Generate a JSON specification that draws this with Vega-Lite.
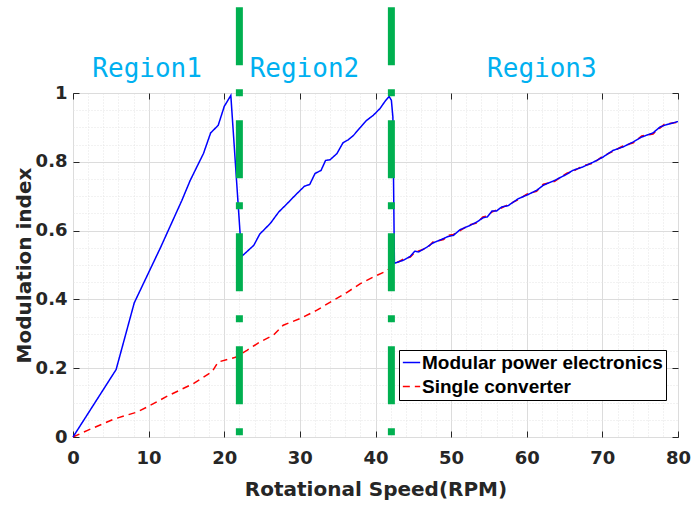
{
  "$schema": "https://vega.github.io/schema/vega-lite/v6.json",
  "autosize": "none",
  "width": 605,
  "height": 344,
  "padding": {"left": 73, "top": 93, "right": 15, "bottom": 69},
  "background": "white",
  "config": {
    "font": "Liberation Sans",
    "view": {"stroke": "#262626", "strokeWidth": 1}
  },
  "datasets": {
    "lines": [
      {"s": "Modular power electronics", "x": 0, "y": 0},
      {"s": "Modular power electronics", "x": 5.7, "y": 0.196},
      {"s": "Modular power electronics", "x": 8.1, "y": 0.39},
      {"s": "Modular power electronics", "x": 11.6, "y": 0.552},
      {"s": "Modular power electronics", "x": 14.4, "y": 0.688},
      {"s": "Modular power electronics", "x": 15.5, "y": 0.746},
      {"s": "Modular power electronics", "x": 17.25, "y": 0.824},
      {"s": "Modular power electronics", "x": 18.2, "y": 0.884},
      {"s": "Modular power electronics", "x": 19.2, "y": 0.906},
      {"s": "Modular power electronics", "x": 20.0, "y": 0.961},
      {"s": "Modular power electronics", "x": 20.87, "y": 0.993},
      {"s": "Modular power electronics", "x": 22.3, "y": 0.525},
      {"s": "Modular power electronics", "x": 23.9, "y": 0.557},
      {"s": "Modular power electronics", "x": 24.7, "y": 0.59},
      {"s": "Modular power electronics", "x": 26.1, "y": 0.621},
      {"s": "Modular power electronics", "x": 27.2, "y": 0.654},
      {"s": "Modular power electronics", "x": 28.3, "y": 0.678},
      {"s": "Modular power electronics", "x": 29.4, "y": 0.703},
      {"s": "Modular power electronics", "x": 30.6, "y": 0.729},
      {"s": "Modular power electronics", "x": 31.3, "y": 0.734},
      {"s": "Modular power electronics", "x": 32.0, "y": 0.766},
      {"s": "Modular power electronics", "x": 32.8, "y": 0.775},
      {"s": "Modular power electronics", "x": 33.4, "y": 0.804},
      {"s": "Modular power electronics", "x": 34.0, "y": 0.806},
      {"s": "Modular power electronics", "x": 34.9, "y": 0.824},
      {"s": "Modular power electronics", "x": 35.7, "y": 0.855},
      {"s": "Modular power electronics", "x": 36.4, "y": 0.864},
      {"s": "Modular power electronics", "x": 37.1, "y": 0.877},
      {"s": "Modular power electronics", "x": 38.0, "y": 0.9},
      {"s": "Modular power electronics", "x": 38.8, "y": 0.92},
      {"s": "Modular power electronics", "x": 39.7, "y": 0.935},
      {"s": "Modular power electronics", "x": 40.6, "y": 0.955},
      {"s": "Modular power electronics", "x": 41.3, "y": 0.977},
      {"s": "Modular power electronics", "x": 41.8, "y": 0.99},
      {"s": "Modular power electronics", "x": 42.1, "y": 0.979},
      {"s": "Modular power electronics", "x": 42.3, "y": 0.93},
      {"s": "Modular power electronics", "x": 42.5, "y": 0.505},
      {"s": "Modular power electronics", "x": 43.7, "y": 0.514},
      {"s": "Modular power electronics", "x": 44.6, "y": 0.525},
      {"s": "Modular power electronics", "x": 45.2, "y": 0.54},
      {"s": "Modular power electronics", "x": 45.7, "y": 0.538},
      {"s": "Modular power electronics", "x": 46.8, "y": 0.552},
      {"s": "Modular power electronics", "x": 47.6, "y": 0.564},
      {"s": "Modular power electronics", "x": 49.0, "y": 0.577},
      {"s": "Modular power electronics", "x": 49.6, "y": 0.583},
      {"s": "Modular power electronics", "x": 50.3, "y": 0.586},
      {"s": "Modular power electronics", "x": 51.2, "y": 0.603},
      {"s": "Modular power electronics", "x": 52.3, "y": 0.613},
      {"s": "Modular power electronics", "x": 53.4, "y": 0.625},
      {"s": "Modular power electronics", "x": 54.2, "y": 0.637},
      {"s": "Modular power electronics", "x": 54.8, "y": 0.64},
      {"s": "Modular power electronics", "x": 55.4, "y": 0.657},
      {"s": "Modular power electronics", "x": 56.0, "y": 0.657},
      {"s": "Modular power electronics", "x": 56.7, "y": 0.669},
      {"s": "Modular power electronics", "x": 57.5, "y": 0.672},
      {"s": "Modular power electronics", "x": 58.9, "y": 0.693},
      {"s": "Modular power electronics", "x": 60.0, "y": 0.703},
      {"s": "Modular power electronics", "x": 61.3, "y": 0.717},
      {"s": "Modular power electronics", "x": 62.2, "y": 0.732},
      {"s": "Modular power electronics", "x": 63.7, "y": 0.746},
      {"s": "Modular power electronics", "x": 65.3, "y": 0.764},
      {"s": "Modular power electronics", "x": 66.1, "y": 0.775},
      {"s": "Modular power electronics", "x": 67.4, "y": 0.785},
      {"s": "Modular power electronics", "x": 68.8, "y": 0.799},
      {"s": "Modular power electronics", "x": 70.1, "y": 0.814},
      {"s": "Modular power electronics", "x": 71.4, "y": 0.833},
      {"s": "Modular power electronics", "x": 72.7, "y": 0.843},
      {"s": "Modular power electronics", "x": 74.1, "y": 0.858},
      {"s": "Modular power electronics", "x": 75.2, "y": 0.872},
      {"s": "Modular power electronics", "x": 76.7, "y": 0.884},
      {"s": "Modular power electronics", "x": 77.6, "y": 0.901},
      {"s": "Modular power electronics", "x": 78.2, "y": 0.906},
      {"s": "Modular power electronics", "x": 79.8, "y": 0.916},
      {"s": "Modular power electronics", "x": 80, "y": 0.917},
      {"s": "Single converter", "x": 0, "y": 0},
      {"s": "Single converter", "x": 2.0, "y": 0.02},
      {"s": "Single converter", "x": 5.4, "y": 0.052},
      {"s": "Single converter", "x": 8.4, "y": 0.072},
      {"s": "Single converter", "x": 9.8, "y": 0.087},
      {"s": "Single converter", "x": 12.4, "y": 0.118},
      {"s": "Single converter", "x": 15.9, "y": 0.155},
      {"s": "Single converter", "x": 18.4, "y": 0.19},
      {"s": "Single converter", "x": 19.2, "y": 0.218},
      {"s": "Single converter", "x": 21.5, "y": 0.232},
      {"s": "Single converter", "x": 23.0, "y": 0.252},
      {"s": "Single converter", "x": 24.7, "y": 0.276},
      {"s": "Single converter", "x": 26.5, "y": 0.296},
      {"s": "Single converter", "x": 27.8, "y": 0.325},
      {"s": "Single converter", "x": 30.0, "y": 0.344},
      {"s": "Single converter", "x": 32.2, "y": 0.368},
      {"s": "Single converter", "x": 34.4, "y": 0.397},
      {"s": "Single converter", "x": 36.2, "y": 0.42},
      {"s": "Single converter", "x": 38.0, "y": 0.446},
      {"s": "Single converter", "x": 39.7, "y": 0.465},
      {"s": "Single converter", "x": 41.5, "y": 0.483},
      {"s": "Single converter", "x": 42.5, "y": 0.503},
      {"s": "Single converter", "x": 43.7, "y": 0.517},
      {"s": "Single converter", "x": 44.6, "y": 0.523},
      {"s": "Single converter", "x": 45.2, "y": 0.537},
      {"s": "Single converter", "x": 45.7, "y": 0.541},
      {"s": "Single converter", "x": 46.8, "y": 0.549},
      {"s": "Single converter", "x": 47.6, "y": 0.567},
      {"s": "Single converter", "x": 49.0, "y": 0.574},
      {"s": "Single converter", "x": 49.6, "y": 0.586},
      {"s": "Single converter", "x": 50.3, "y": 0.589},
      {"s": "Single converter", "x": 51.2, "y": 0.6},
      {"s": "Single converter", "x": 52.3, "y": 0.616},
      {"s": "Single converter", "x": 53.4, "y": 0.622},
      {"s": "Single converter", "x": 54.2, "y": 0.64},
      {"s": "Single converter", "x": 54.8, "y": 0.643},
      {"s": "Single converter", "x": 55.4, "y": 0.654},
      {"s": "Single converter", "x": 56.0, "y": 0.66},
      {"s": "Single converter", "x": 56.7, "y": 0.666},
      {"s": "Single converter", "x": 57.5, "y": 0.675},
      {"s": "Single converter", "x": 58.9, "y": 0.69},
      {"s": "Single converter", "x": 60.0, "y": 0.706},
      {"s": "Single converter", "x": 61.3, "y": 0.714},
      {"s": "Single converter", "x": 62.2, "y": 0.735},
      {"s": "Single converter", "x": 63.7, "y": 0.743},
      {"s": "Single converter", "x": 65.3, "y": 0.767},
      {"s": "Single converter", "x": 66.1, "y": 0.772},
      {"s": "Single converter", "x": 67.4, "y": 0.788},
      {"s": "Single converter", "x": 68.8, "y": 0.796},
      {"s": "Single converter", "x": 70.1, "y": 0.817},
      {"s": "Single converter", "x": 71.4, "y": 0.83},
      {"s": "Single converter", "x": 72.7, "y": 0.846},
      {"s": "Single converter", "x": 74.1, "y": 0.855},
      {"s": "Single converter", "x": 75.2, "y": 0.875},
      {"s": "Single converter", "x": 76.7, "y": 0.881},
      {"s": "Single converter", "x": 77.6, "y": 0.898},
      {"s": "Single converter", "x": 78.2, "y": 0.909},
      {"s": "Single converter", "x": 79.8, "y": 0.914},
      {"s": "Single converter", "x": 80, "y": 0.918}
    ],
    "bounds": [
      {"x": 22.0, "top": 1.249, "bottom": -0.065},
      {"x": 42.1, "top": 1.249, "bottom": -0.065}
    ],
    "regions": [
      {"label": "Region1", "x": 9.8, "y": 1.046},
      {"label": "Region2", "x": 30.6, "y": 1.046},
      {"label": "Region3", "x": 62.0, "y": 1.046}
    ]
  },
  "layer": [
    {
      "data": {"name": "lines"},
      "transform": [{"filter": "datum.s === 'Single converter'"}],
      "mark": {"type": "line", "strokeWidth": 1.5, "clip": false},
      "encoding": {
        "x": {
          "field": "x", "type": "quantitative",
          "scale": {"domain": [0, 80], "nice": false, "zero": false},
          "axis": {
            "orient": "bottom",
            "title": "Rotational Speed(RPM)",
            "values": [0,2,4,6,8,10,12,14,16,18,20,22,24,26,28,30,32,34,36,38,40,42,44,46,48,50,52,54,56,58,60,62,64,66,68,70,72,74,76,78,80],
            "labelExpr": "datum.value % 10 === 0 ? datum.label : ''",
            "labelOverlap": false,
            "labelFlush": false,
            "labelFont": "DejaVu Sans",
            "labelFontSize": 18, "labelFontWeight": "bold", "labelColor": "#262626",
            "labelPadding": 18, "labelBaseline": "top",
            "tickSize": -6, "tickColor": "#262626",
            "tickOpacity": {"condition": {"test": "datum.value % 10 === 0", "value": 1}, "value": 0},
            "domain": false,
            "grid": true,
            "gridColor": {"condition": {"test": "datum.value % 10 === 0", "value": "#dcdcdc"}, "value": "#e4e4e4"},
            "gridDash": {"condition": {"test": "datum.value % 10 === 0", "value": []}, "value": [1, 2]},
            "gridWidth": 1,
            "titleFont": "DejaVu Sans",
            "titleFontSize": 20, "titleFontWeight": "bold", "titleColor": "#262626",
            "titleX": 302.5, "titleY": 58, "titleBaseline": "alphabetic", "titleAlign": "center"
          }
        },
        "y": {
          "field": "y", "type": "quantitative",
          "scale": {"domain": [0, 1], "nice": false, "zero": false},
          "axis": {
            "orient": "left",
            "title": "Modulation index",
            "values": [0,0.05,0.1,0.15,0.2,0.25,0.3,0.35,0.4,0.45,0.5,0.55,0.6,0.65,0.7,0.75,0.8,0.85,0.9,0.95,1],
            "labelExpr": "abs(datum.value*5 - round(datum.value*5)) < 0.001 ? format(datum.value, '.1~f') : ''",
            "labelOverlap": false,
            "labelFlush": false,
            "labelFont": "DejaVu Sans",
            "labelFontSize": 18, "labelFontWeight": "bold", "labelColor": "#262626",
            "labelPadding": 12,
            "tickSize": -6, "tickColor": "#262626",
            "tickOpacity": {"condition": {"test": "abs(datum.value*5 - round(datum.value*5)) < 0.001", "value": 1}, "value": 0},
            "domain": false,
            "grid": true,
            "gridColor": {"condition": {"test": "abs(datum.value*5 - round(datum.value*5)) < 0.001", "value": "#dcdcdc"}, "value": "#e4e4e4"},
            "gridDash": {"condition": {"test": "abs(datum.value*5 - round(datum.value*5)) < 0.001", "value": []}, "value": [1, 2]},
            "gridWidth": 1,
            "titleFont": "DejaVu Sans",
            "titleFontSize": 20, "titleFontWeight": "bold", "titleColor": "#262626",
            "titleAngle": -90, "titleX": -43, "titleY": 172, "titleBaseline": "alphabetic", "titleAlign": "center"
          }
        },
        "color": {
          "field": "s", "type": "nominal",
          "scale": {"domain": ["Modular power electronics", "Single converter"], "range": ["#0000ff", "#ff0000"]},
          "legend": {
            "orient": "none", "legendX": 326, "legendY": 257,
            "title": null,
            "symbolType": "stroke", "symbolSize": 300, "symbolStrokeWidth": 1.5,
            "labelFontSize": 19, "labelFontWeight": "bold", "labelColor": "#000000", "labelFont": "Liberation Sans",
            "labelLimit": 400, "labelOffset": 1,
            "strokeColor": "#000000", "fillColor": "#ffffff", "padding": 3, "rowPadding": 4, "cornerRadius": 0
          }
        },
        "strokeDash": {
          "field": "s", "type": "nominal",
          "scale": {"domain": ["Modular power electronics", "Single converter"], "range": [[1, 0], [7, 5]]},
          "legend": {
            "orient": "none", "legendX": 326, "legendY": 257,
            "title": null,
            "symbolType": "stroke", "symbolSize": 300, "symbolStrokeWidth": 1.5,
            "labelFontSize": 19, "labelFontWeight": "bold", "labelColor": "#000000", "labelFont": "Liberation Sans",
            "labelLimit": 400, "labelOffset": 1,
            "strokeColor": "#000000", "fillColor": "#ffffff", "padding": 3, "rowPadding": 4, "cornerRadius": 0
          }
        }
      }
    },
    {
      "data": {"name": "lines"},
      "transform": [{"filter": "datum.s === 'Modular power electronics'"}],
      "mark": {"type": "line", "strokeWidth": 1.5, "clip": false},
      "encoding": {
        "x": {"field": "x", "type": "quantitative", "axis": null},
        "y": {"field": "y", "type": "quantitative", "axis": null},
        "color": {"field": "s", "type": "nominal"},
        "strokeDash": {"field": "s", "type": "nominal"}
      }
    },
    {
      "data": {"name": "bounds"},
      "mark": {"type": "rule", "color": "#00b050", "strokeWidth": 7, "strokeDash": [58, 24, 7, 24], "strokeCap": "butt", "clip": false},
      "encoding": {
        "x": {
          "field": "x", "type": "quantitative",
          "axis": {
            "orient": "top", "title": null, "labels": false, "domain": false, "grid": false,
            "values": [0, 10, 20, 30, 40, 50, 60, 70, 80],
            "tickSize": -6, "tickColor": "#262626"
          }
        },
        "y": {
          "field": "top", "type": "quantitative",
          "axis": {
            "orient": "right", "title": null, "labels": false, "domain": false, "grid": false,
            "values": [0, 0.2, 0.4, 0.6, 0.8, 1],
            "tickSize": -6, "tickColor": "#262626"
          }
        },
        "y2": {"field": "bottom"}
      }
    },
    {
      "data": {"name": "regions"},
      "mark": {"type": "text", "font": "DejaVu Sans Mono", "fontSize": 26, "color": "#00b0f0", "align": "center", "baseline": "alphabetic", "clip": false},
      "encoding": {
        "x": {"field": "x", "type": "quantitative", "axis": null},
        "y": {"field": "y", "type": "quantitative", "axis": null},
        "text": {"field": "label"}
      }
    }
  ],
  "resolve": {"axis": {"x": "independent", "y": "independent"}}
}
